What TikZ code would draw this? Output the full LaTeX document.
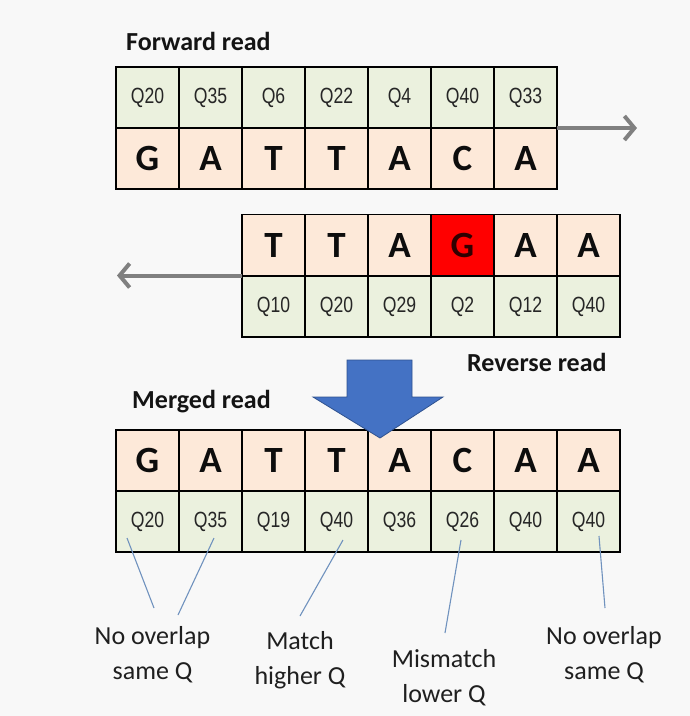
\documentclass[tikz,border=0pt]{standalone}
\usepackage{fontspec}
\setmainfont{Carlito}
\newfontfamily\qfont[FakeStretch=0.8]{Liberation Sans}
\usetikzlibrary{arrows.meta}
\definecolor{qgreen}{HTML}{EBF1DE}
\definecolor{lpeach}{HTML}{FDE9D9}
\definecolor{bgc}{HTML}{F8F8F8}
\definecolor{leadc}{HTML}{7092BE}
\definecolor{bluearrow}{HTML}{4472C4}
\definecolor{bluedge}{HTML}{2F528F}
\definecolor{redcell}{HTML}{FF0000}
\definecolor{redtext}{HTML}{300000}
\definecolor{readgray}{HTML}{808080}
\tikzset{
  cell/.style={draw=black, line width=1.1pt, minimum width=63pt, minimum height=61pt, inner sep=0pt, outer sep=0pt, anchor=center},
  qcell/.style={cell, fill=qgreen, font=\qfont\fontsize{22}{22}\selectfont, text=black!85},
  bcell/.style={cell, fill=lpeach, font=\bfseries\fontsize{37}{37}\selectfont, text=black!95},
  title/.style={font=\bfseries\fontsize{26}{26}\selectfont, inner sep=0pt, text=black!92},
  note/.style={font=\fontsize{26}{35}\selectfont, align=center, inner sep=0pt, text=black!88, anchor=north},
  leader/.style={draw=leadc, line width=1.1pt},
  readarrow/.style={draw=readgray, line width=4pt, -{Straight Barb[length=10pt,width=24pt]}},
}
\begin{document}
\begin{tikzpicture}[x=1pt,y=-1pt]
\fill[bgc] (0,0) rectangle (690,716);
\useasboundingbox (0,0) rectangle (690,716);

% Forward read
\node[title, anchor=base west] (ftitle) at (126,50.7) {Forward read};
\foreach \q/\b [count=\i] in {Q20/G,Q35/A,Q6/T,Q22/T,Q4/A,Q40/C,Q33/A}{
  \node[qcell] (F\i q) at ({84.5+63*\i},97.5) {\q};
  \node[bcell] (F\i b) at ({84.5+63*\i},158.5) {\b};
}
\coordinate (fwdtip) at (637,128);
\draw[readarrow] (F7q.south east) -- (fwdtip);

% Reverse read
\foreach \b/\q [count=\i] in {T/Q10,T/Q20,A/Q29,G/Q2,A/Q12,A/Q40}{
  \node[bcell] (R\i b) at ({210.5+63*\i},245) {\b};
  \node[qcell] (R\i q) at ({210.5+63*\i},306.5) {\q};
}
\node[bcell, fill=redcell, text=redtext] at (R4b) {G};
\coordinate (revtip) at (117,275.5);
\draw[readarrow] (R1b.south west) -- (revtip);
\node[title, anchor=base west] (rtitle) at (467,371.7) {Reverse read};

% Merged read
\node[title, anchor=base west] (mtitle) at (132,408) {Merged read};
\foreach \b/\q [count=\i] in {G/Q20,A/Q35,T/Q19,T/Q40,A/Q36,C/Q26,A/Q40,A/Q40}{
  \node[bcell] (M\i b) at ({84.5+63*\i},460.5) {\b};
  \node[qcell] (M\i q) at ({84.5+63*\i},521.5) {\q};
}

% Blue merge arrow
\filldraw[fill=bluearrow, draw=bluedge, line width=0.8pt, line join=miter]
  (347,360) -- (412,360) -- (412,397) -- (443,397) -- (380,438) -- (313,397) -- (347,397) -- cycle;

% Notes
\node[note] (n1) at (152.5,626) {No overlap\\same Q};
\node[note] (n2) at (300,631) {Match\\higher Q};
\node[note] (n3) at (444,649) {Mismatch\\lower Q};
\node[note] (n4) at (604,626) {No overlap\\same Q};

\coordinate (a1) at (127,538); \coordinate (e1) at (154,608);
\coordinate (a2) at (214,538); \coordinate (e2) at (178,615);
\coordinate (a3) at (343,540); \coordinate (e3) at (300,616);
\coordinate (a4) at (461,540); \coordinate (e4) at (445,633);
\coordinate (a5) at (599,536); \coordinate (e5) at (605,608);
\draw[leader] (a1) -- (e1);
\draw[leader] (a2) -- (e2);
\draw[leader] (a3) -- (e3);
\draw[leader] (a4) -- (e4);
\draw[leader] (a5) -- (e5);
\end{tikzpicture}
\end{document}
